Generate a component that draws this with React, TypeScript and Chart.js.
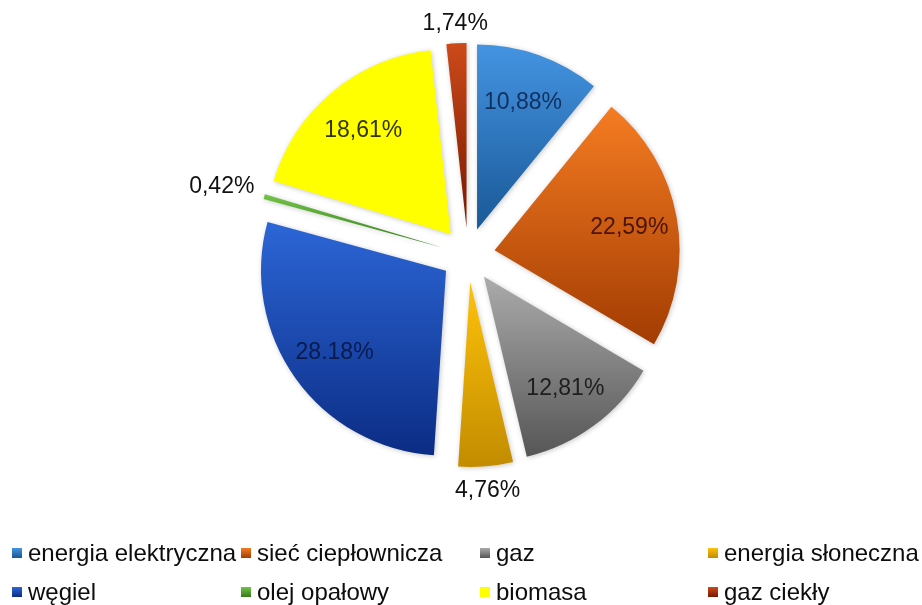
import React, { useEffect, useRef } from "react";
import { Chart, registerables } from "chart.js";

Chart.register(...registerables);

const categories = [
  "energia elektryczna",
  "sieć ciepłownicza",
  "gaz",
  "energia słoneczna",
  "węgiel",
  "olej opałowy",
  "biomasa",
  "gaz ciekły",
];
const shares = [10.88, 22.59, 12.81, 4.76, 28.18, 0.42, 18.61, 1.74];
const shareLabels = ["10,88%", "22,59%", "12,81%", "4,76%", "28.18%", "0,42%", "18,61%", "1,74%"];

const topColors = ["#4494e2", "#f57c22", "#ababab", "#ffc20a", "#2c66d6", "#72c446", "#ffff00", "#cc4a1a"];
const bottomColors = ["#195896", "#a23c02", "#555555", "#c28c00", "#0b2c84", "#357a1c", "#ffff00", "#761800"];
const labelColors = ["#12305e", "#4a1400", "#1e1e1e", "#111111", "#0a1a4e", "#111111", "#333300", "#111111"];

const RADIUS = 185;
const EXPLODE = 27;
const FONT = '"Liberation Sans", Arial, sans-serif';

const legendCols = [12, 241, 480, 708];
const legendRows = [553, 592];

const total = shares.reduce((a, b) => a + b, 0);

function sliceYRange(cy: number, i: number): [number, number] {
  let before = 0;
  for (let k = 0; k < i; k++) before += shares[k];
  const a0 = (before / total) * Math.PI * 2;
  const a1 = ((before + shares[i]) / total) * Math.PI * 2;
  const ys = [cy, cy - RADIUS * Math.cos(a0), cy - RADIUS * Math.cos(a1)];
  if (a0 <= 1e-6) ys.push(cy - RADIUS);
  if (a0 <= Math.PI && a1 >= Math.PI) ys.push(cy + RADIUS);
  return [Math.min(...ys), Math.max(...ys)];
}

function sliceColor(c: any) {
  const chart = c.chart;
  const area = chart.chartArea;
  const i = c.dataIndex;
  if (!area || c.type !== "data") return topColors[i];
  const cy = (area.top + area.bottom) / 2;
  const [y0, y1] = sliceYRange(cy, i);
  const g = chart.ctx.createLinearGradient(0, y0, 0, y1 + 1);
  g.addColorStop(0, topColors[i]);
  g.addColorStop(1, bottomColors[i]);
  return g;
}

const explodePlugin = {
  id: "explodeDraw",
  beforeDatasetDraw(chart: any, args: any) {
    const meta = args.meta;
    const ctx = chart.ctx;
    meta.data.forEach((arc: any) => {
      const mid = (arc.startAngle + arc.endAngle) / 2;
      ctx.save();
      ctx.translate(Math.cos(mid) * EXPLODE, Math.sin(mid) * EXPLODE);
      ctx.shadowColor = "rgba(0,0,0,0.22)";
      ctx.shadowBlur = 5;
      ctx.shadowOffsetX = 1;
      ctx.shadowOffsetY = 1;
      arc.draw(ctx);
      ctx.restore();
    });
    return false;
  },
};

const labelPlugin = {
  id: "sliceLabels",
  afterDatasetsDraw(chart: any) {
    const ctx = chart.ctx;
    const meta = chart.getDatasetMeta(0);
    ctx.save();
    ctx.font = `23px ${FONT}`;
    ctx.textAlign = "center";
    ctx.textBaseline = "middle";
    meta.data.forEach((arc: any, i: number) => {
      const mid = (arc.startAngle + arc.endAngle) / 2;
      const dx = Math.cos(mid);
      const dy = Math.sin(mid);
      const ax = arc.x + dx * EXPLODE;
      const ay = arc.y + dy * EXPLODE;
      const text = shareLabels[i];
      let dist: number;
      if (shares[i] < 5) {
        const w = ctx.measureText(text).width;
        dist = arc.outerRadius + 10 + Math.abs(dx) * (w / 2) + Math.abs(dy) * 10;
      } else {
        dist = arc.outerRadius * 0.74;
      }
      ctx.fillStyle = labelColors[i];
      ctx.fillText(text, ax + dx * dist, ay + dy * dist + 2);
    });
    ctx.restore();
  },
};

const legendPlugin = {
  id: "gridLegend",
  afterDraw(chart: any) {
    const ctx = chart.ctx;
    ctx.save();
    ctx.font = `24px ${FONT}`;
    ctx.textBaseline = "middle";
    ctx.textAlign = "left";
    categories.forEach((name, i) => {
      const x = legendCols[i % 4];
      const y = legendRows[Math.floor(i / 4)];
      const g = ctx.createLinearGradient(0, y - 5, 0, y + 5);
      g.addColorStop(0, topColors[i]);
      g.addColorStop(1, bottomColors[i]);
      ctx.fillStyle = g;
      ctx.fillRect(x, y - 5, 10, 10);
      ctx.fillStyle = "#0d0d0d";
      ctx.fillText(name, x + 16, y + 1);
    });
    ctx.restore();
  },
};

export default function App() {
  const ref = useRef<HTMLCanvasElement>(null);
  useEffect(() => {
    if (!ref.current) return;
    const chart = new Chart(ref.current, {
      type: "pie",
      data: {
        labels: categories,
        datasets: [
          {
            data: shares,
            backgroundColor: sliceColor as any,
            borderWidth: 0,
            radius: RADIUS,
          } as any,
        ],
      },
      options: {
        responsive: false,
        animation: false,
        layout: { padding: { left: 14, right: 0, top: 20, bottom: 115 } },
        plugins: {
          legend: { display: false },
          tooltip: { enabled: false },
        },
      },
      plugins: [explodePlugin, labelPlugin, legendPlugin],
    });
    return () => chart.destroy();
  }, []);
  return (
    <div style={{ position: "absolute", left: 0, top: 0, width: 922, height: 605, background: "#ffffff" }}>
      <canvas ref={ref} width={922} height={605} style={{ display: "block" }} />
    </div>
  );
}
